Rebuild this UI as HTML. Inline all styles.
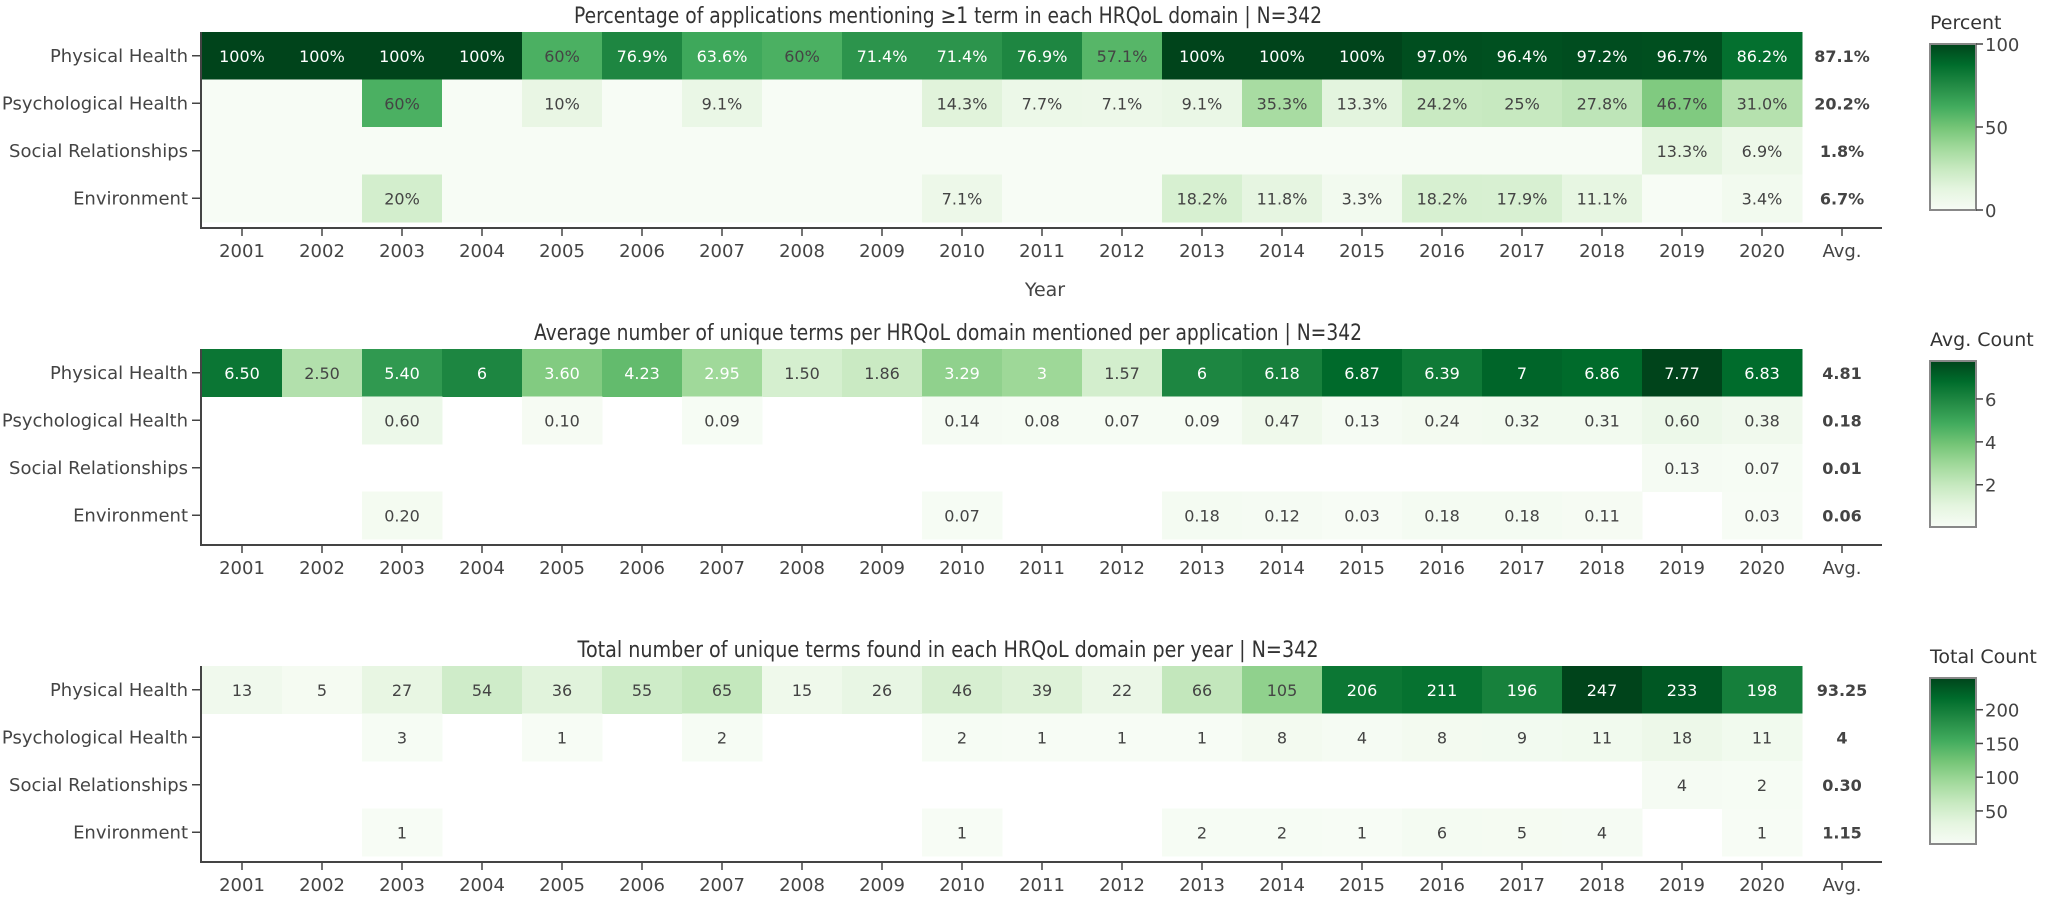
<!DOCTYPE html>
<html><head><meta charset="utf-8">
<style>
html,body{margin:0;padding:0;background:#fff;}
svg{display:block;font-family:"DejaVu Sans","Liberation Sans",sans-serif;}
</style></head>
<body>
<svg id="chart" width="2056" height="897" viewBox="0 0 2056 897" xmlns="http://www.w3.org/2000/svg"></svg>
<script>
const years = ["2001","2002","2003","2004","2005","2006","2007","2008","2009","2010","2011","2012","2013","2014","2015","2016","2017","2018","2019","2020"];
const domains = ["Physical Health","Psychological Health","Social Relationships","Environment"];

// Panel 1: percentage
const p1Physical = [100,100,100,100,60,76.9,63.6,60,71.4,71.4,76.9,57.1,100,100,100,97.0,96.4,97.2,96.7,86.2];
const p1Psych    = [null,null,60,null,10,null,9.1,null,null,14.3,7.7,7.1,9.1,35.3,13.3,24.2,25,27.8,46.7,31.0];
const p1Social   = [null,null,null,null,null,null,null,null,null,null,null,null,null,null,null,null,null,null,13.3,6.9];
const p1Env      = [null,null,20,null,null,null,null,null,null,7.1,null,null,18.2,11.8,3.3,18.2,17.9,11.1,null,3.4];
const p1Avg      = ["87.1%","20.2%","1.8%","6.7%"];
const p1Ticks    = [0,50,100];

// Panel 2: average count
const p2Physical = [6.50,2.50,5.40,6,3.60,4.23,2.95,1.50,1.86,3.29,3,1.57,6,6.18,6.87,6.39,7,6.86,7.77,6.83];
const p2Psych    = [null,null,0.60,null,0.10,null,0.09,null,null,0.14,0.08,0.07,0.09,0.47,0.13,0.24,0.32,0.31,0.60,0.38];
const p2Social   = [null,null,null,null,null,null,null,null,null,null,null,null,null,null,null,null,null,null,0.13,0.07];
const p2Env      = [null,null,0.20,null,null,null,null,null,null,0.07,null,null,0.18,0.12,0.03,0.18,0.18,0.11,null,0.03];
const p2Avg      = ["4.81","0.18","0.01","0.06"];
const p2Ticks    = [2,4,6];

// Panel 3: total count
const p3Physical = [13,5,27,54,36,55,65,15,26,46,39,22,66,105,206,211,196,247,233,198];
const p3Psych    = [null,null,3,null,1,null,2,null,null,2,1,1,1,8,4,8,9,11,18,11];
const p3Social   = [null,null,null,null,null,null,null,null,null,null,null,null,null,null,null,null,null,null,4,2];
const p3Env      = [null,null,1,null,null,null,null,null,null,1,null,null,2,2,1,6,5,4,null,1];
const p3Avg      = ["93.25","4","0.30","1.15"];
const p3Ticks    = [50,100,150,200];

const NS="http://www.w3.org/2000/svg";
const svg=document.getElementById('chart');
function mk(tag,attrs,parent){const e=document.createElementNS(NS,tag);for(const k in attrs)e.setAttribute(k,attrs[k]);(parent||svg).appendChild(e);return e;}

const scale=[[0,[247,252,245]],[0.125,[229,245,224]],[0.25,[199,233,192]],[0.375,[161,217,155]],[0.5,[116,196,118]],[0.625,[65,171,93]],[0.75,[35,139,69]],[0.875,[0,109,44]],[1,[0,68,27]]];
function col(t){t=Math.max(0,Math.min(1,t));for(let i=1;i<scale.length;i++){if(t<=scale[i][0]){const a=scale[i-1],b=scale[i];const f=(t-a[0])/(b[0]-a[0]);const c=a[1].map((v,j)=>Math.round(v+(b[1][j]-v)*f));return `rgb(${c[0]},${c[1]},${c[2]})`;}}return 'rgb(0,68,27)';}

const LEFT=202, COLW=80, ROWH=47.5;
function xc(i){return LEFT+COLW*(i+0.5);}
function yr(r,top){return top+ROWH*r;}

const panels=[
 {name:'percent',top:32,title:'Percentage of applications mentioning ≥1 term in each HRQoL domain | N=342',tlen:748,rows:[p1Physical,p1Psych,p1Social,p1Env],avg:p1Avg,zmin:0,zmax:100,ticks:p1Ticks,cbTitle:'Percent',nullFill:true,thr:0.6,
  fmt:v=>{if(v===100||v===60||v===10||v===20||v===25)return v+'%';return v.toFixed(1)+'%';}},
 {name:'avg-count',top:349,title:'Average number of unique terms per HRQoL domain mentioned per application | N=342',tlen:828,rows:[p2Physical,p2Psych,p2Social,p2Env],avg:p2Avg,zmin:0.03,zmax:7.77,ticks:p2Ticks,cbTitle:'Avg. Count',nullFill:false,thr:0.37,
  fmt:v=>{if(v===6||v===3||v===7)return String(v);return v.toFixed(2);}},
 {name:'total-count',top:666,title:'Total number of unique terms found in each HRQoL domain per year | N=342',tlen:741,rows:[p3Physical,p3Psych,p3Social,p3Env],avg:p3Avg,zmin:1,zmax:247,ticks:p3Ticks,cbTitle:'Total Count',nullFill:false,thr:0.5,
  fmt:v=>String(v)}
];

panels.forEach((p,pi)=>{
  const g=mk('g',{});
  
  
  const bottom=p.top+ROWH*4;
  const t=mk('text',{x:948,y:p.top-9,'text-anchor':'middle','font-size':22,fill:'#333',textLength:p.tlen,lengthAdjust:'spacingAndGlyphs'},g);
  t.textContent=p.title;
  
  
  p.rows.forEach((row,r)=>{
    row.forEach((v,i)=>{
      const norm=v===null?0:(v-p.zmin)/(p.zmax-p.zmin);
      if(v!==null||p.nullFill){
        const rc=mk('rect',{x:LEFT+COLW*i,y:yr(r,p.top),width:COLW+0.5,height:ROWH+0.5,fill:col(norm)},g);
        
        
      }
      if(v!==null){
        const tx=mk('text',{x:xc(i),y:yr(r,p.top)+ROWH/2+6,'text-anchor':'middle','font-size':16,fill:norm>p.thr?'#fff':'#444'},g);
        tx.textContent=p.fmt(v);
        
        
      }
    });
    const at=mk('text',{x:xc(20),y:yr(r,p.top)+ROWH/2+6,'text-anchor':'middle','font-size':16,'font-weight':'bold',fill:'#444'},g);
    at.textContent=p.avg[r];
    
    
    const yl=mk('text',{x:188,y:yr(r,p.top)+ROWH/2+6,'text-anchor':'end','font-size':18,fill:'#444'},g);
    yl.textContent=domains[r];
    
    
    mk('line',{x1:192,x2:200,y1:yr(r,p.top)+ROWH/2,y2:yr(r,p.top)+ROWH/2,stroke:'#444','stroke-width':1.5},g);
  });
  const ya=mk('line',{x1:201,x2:201,y1:p.top,y2:bottom+6,stroke:'#444','stroke-width':2},g);
  
  
  const xa=mk('line',{x1:200,x2:LEFT+COLW*21,y1:bottom+6,y2:bottom+6,stroke:'#444','stroke-width':2},g);
  
  
  const labels=years.concat(['Avg.']);
  labels.forEach((l,i)=>{
    mk('line',{x1:xc(i),x2:xc(i),y1:bottom+6,y2:bottom+14,stroke:'#444','stroke-width':1.5},g);
    const tl=mk('text',{x:xc(i),y:bottom+35,'text-anchor':'middle','font-size':18,fill:'#444'},g);
    tl.textContent=l;
    
    
  });
  if(pi===0){
    const yt=mk('text',{x:1045,y:bottom+74,'text-anchor':'middle','font-size':19,fill:'#444'},g);
    yt.textContent='Year';
    
    
  }
  const cbx=1930,cbw=46,cbt=p.top+12,cbh=166;
  const gid='grad'+pi;
  const defs=mk('defs',{},g);
  const lg=mk('linearGradient',{id:gid,x1:0,y1:1,x2:0,y2:0},defs);
  scale.forEach(s=>mk('stop',{offset:s[0],'stop-color':col(s[0])},lg));
  const cb=mk('rect',{x:cbx,y:cbt,width:cbw,height:cbh,fill:`url(#${gid})`,stroke:'#888','stroke-width':2},g);
  
  
  const ct=mk('text',{x:cbx,y:p.top-3,'font-size':19,fill:'#333'},g);
  ct.textContent=p.cbTitle;
  
  
  p.ticks.forEach(tv=>{
    const yy=cbt+cbh-(tv-p.zmin)/(p.zmax-p.zmin)*cbh;
    mk('line',{x1:cbx+cbw,x2:cbx+cbw+7,y1:yy,y2:yy,stroke:'#444','stroke-width':1.5},g);
    const tk=mk('text',{x:cbx+cbw+9,y:yy+7,'font-size':18,fill:'#444'},g);
    tk.textContent=String(tv);
    
    
  });
});
</script>
</body></html>
